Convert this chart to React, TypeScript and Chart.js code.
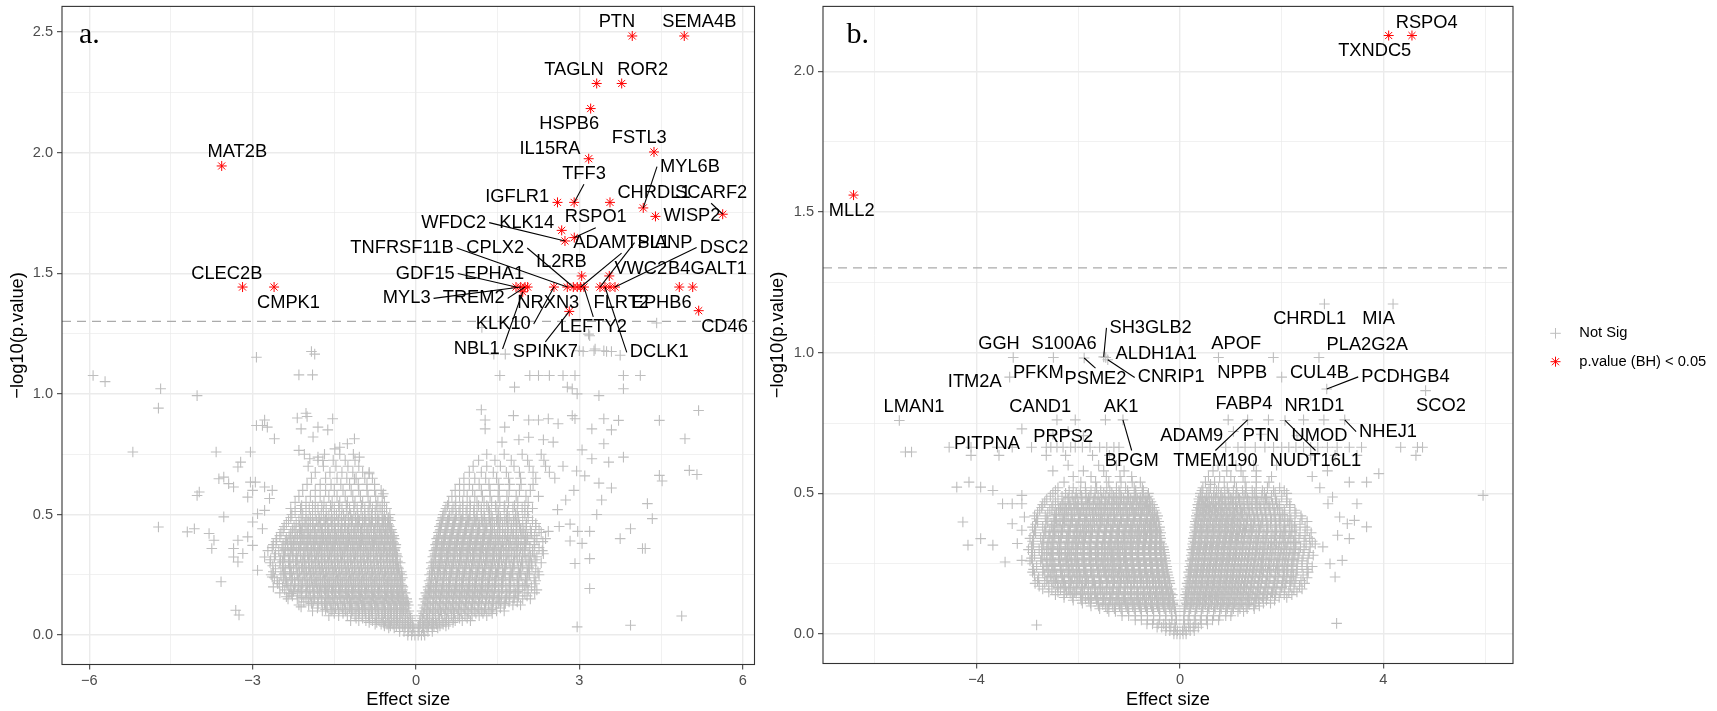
import React, { useEffect, useRef } from 'react';
import { Chart, registerables } from 'chart.js';

Chart.register(...registerables);

const SANS = '"Liberation Sans", Arial, Helvetica, sans-serif';
const SERIF = '"Liberation Serif", "Times New Roman", Times, serif';
const GREY = '#BEBEBE';
const RED = '#FF0000';

// significance cut-off drawn as the dashed line
const pCutoff = 0.05;

// axis breaks
const xMajorA = [-6, -3, 0, 3, 6];
const xMinorA = [-4.5, -1.5, 1.5, 4.5];
const yMajorA = [0, 0.5, 1, 1.5, 2, 2.5];
const yMinorA = [0.25, 0.75, 1.25, 1.75, 2.25];
const xMajorB = [-4, 0, 4];
const xMinorB = [-6, -2, 2, 6];
const yMajorB = [0, 0.5, 1, 1.5, 2];
const yMinorB = [0.25, 0.75, 1.25, 1.75];

// ---------- panel a: genes passing BH ----------
const sigGenesA = ['PTN', 'SEMA4B', 'TAGLN', 'ROR2', 'HSPB6', 'IL15RA', 'FSTL3', 'MAT2B', 'IGFLR1', 'TFF3',
  'CHRDL1', 'MYL6B', 'WISP2', 'SCARF2', 'KLK14', 'WFDC2', 'RSPO1', 'IL2RB', 'VWC2', 'CLEC2B',
  'CMPK1', 'GDF15', 'MYL3', 'NBL1', 'TREM2', 'EPHA1', 'KLK10', 'TNFRSF11B', 'CPLX2', 'NRXN3',
  'ADAMTSL1', 'LEFTY2', 'PIANP', 'DCLK1', 'FLRT2', 'DSC2', 'EPHB6', 'B4GALT1', 'SPINK7', 'CD46'];
const sigEffectA = [3.972, 4.927, 3.319, 3.778, 3.208, 3.172, 4.371, -3.568, 2.599, 2.905,
  3.563, 4.174, 4.398, 5.633, 2.676, 2.736, 2.907, 3.043, 3.55, -3.185,
  -2.606, 1.837, 1.923, 1.96, 2.002, 2.051, 2.534, 2.779, 2.889, 2.962,
  3.025, 3.085, 3.379, 3.471, 3.563, 3.655, 4.836, 5.082, 2.815, 5.192];
const sigLogPA = [2.484, 2.484, 2.287, 2.287, 2.183, 1.975, 2.003, 1.945, 1.794, 1.794,
  1.794, 1.771, 1.736, 1.745, 1.678, 1.634, 1.648, 1.489, 1.489, 1.443,
  1.443, 1.443, 1.443, 1.423, 1.443, 1.443, 1.443, 1.443, 1.443, 1.443,
  1.443, 1.443, 1.443, 1.443, 1.443, 1.443, 1.443, 1.443, 1.342, 1.345];

// repelled label centres (data units), same order as sigGenesA
const labelXA = [3.691, 5.203, 2.902, 4.165, 2.815, 2.461, 4.101, -3.282, 1.859, 3.085,
  4.371, 5.032, 5.069, 5.421, 2.033, 0.692, 3.302, 2.669, 4.129, -3.475,
  -2.342, 0.171, -0.171, 1.115, 1.06, 1.436, 1.603, -0.257, 1.456, 2.43,
  3.776, 3.256, 4.573, 4.467, 3.77, 5.657, 4.512, 5.354, 2.376, 5.666];
const labelYA = [2.542, 2.542, 2.345, 2.345, 2.12, 2.016, 2.062, 2.002, 1.818, 1.913,
  1.834, 1.942, 1.736, 1.834, 1.71, 1.71, 1.732, 1.547, 1.517, 1.498,
  1.377, 1.499, 1.396, 1.186, 1.396, 1.499, 1.29, 1.605, 1.605, 1.379,
  1.627, 1.276, 1.627, 1.172, 1.379, 1.607, 1.379, 1.517, 1.172, 1.277];
const leaderA = ['TFF3', 'MYL6B', 'SCARF2', 'RSPO1', 'WFDC2', 'TNFRSF11B', 'CPLX2', 'ADAMTSL1', 'PIANP',
  'DSC2', 'GDF15', 'MYL3', 'TREM2', 'KLK10', 'NBL1', 'SPINK7', 'LEFTY2', 'DCLK1'];

// ---------- panel a: not significant ----------
// each row: [-log10 p, effect sizes...]
const notSigRowsA: number[][] = [
  [0.0, -0.15, -0.08, -0.02, 0.04, 0.1, 0.16],
  [0.015, -0.3, -0.22, -0.14, -0.06, 0.06, 0.14, 0.22, 0.3],
  [0.03, -0.5, -0.4, -0.3, -0.2, -0.11, -0.04, 0.04, 0.12, 0.2, 0.3, 0.4],
  [0.045, -0.75, -0.64, -0.53, -0.42, -0.31, -0.2, -0.1, 0.08, 0.18, 0.28, 0.38, 0.5, 0.6],
  [0.06, -1.2, -1.05, -0.92, -0.8, -0.68, -0.56, -0.45, -0.34, -0.24, -0.15, -0.07, 0.07, 0.15, 0.25, 0.36, 0.48, 0.6, 0.72, 0.85, 1.0],
  [0.08, -1.6, -1.42, -1.26, -1.12, -0.99, -0.87, -0.75, -0.63, -0.52, -0.41, -0.3, -0.2, -0.11, 0.09, 0.19, 0.3, 0.41, 0.53, 0.65, 0.77, 0.9, 1.03, 1.16, 1.3],
  [0.1, -1.9, -1.72, -1.56, -1.42, -1.29, -1.16, -1.04, -0.92, -0.8, -0.68, -0.56, -0.45, -0.34, -0.23, -0.13, 0.11, 0.22, 0.33, 0.45, 0.57, 0.69, 0.81, 0.94, 1.07, 1.2, 1.34, 1.48, 1.62],
  [0.125, -2.15, -1.97, -1.8, -1.65, -1.51, -1.38, -1.25, -1.12, -1.0, -0.88, -0.76, -0.64, -0.52, -0.41, -0.3, -0.2, -0.14, 0.13, 0.24, 0.36, 0.48, 0.6, 0.72, 0.84, 0.96, 1.08, 1.2, 1.33, 1.47, 1.62, 1.78, 1.92],
  [0.15, -2.35, -2.18, -2.02, -1.87, -1.73, -1.6, -1.47, -1.34, -1.22, -1.1, -0.98, -0.86, -0.74, -0.62, -0.5, -0.39, -0.28, -0.17, 0.15, 0.26, 0.38, 0.5, 0.62, 0.74, 0.86, 0.98, 1.1, 1.22, 1.35, 1.49, 1.64, 1.8, 1.96, 2.1],
  [0.175, -2.5, -2.33, -2.17, -2.02, -1.88, -1.74, -1.61, -1.48, -1.36, -1.24, -1.12, -1.0, -0.88, -0.76, -0.64, -0.52, -0.41, -0.3, -0.2, 0.18, 0.29, 0.41, 0.53, 0.65, 0.77, 0.89, 1.01, 1.13, 1.25, 1.38, 1.52, 1.67, 1.83, 2.0, 2.18],
  [0.2, -2.62, -2.45, -2.3, -2.16, -2.02, -1.9, -1.78, -1.66, -1.54, -1.42, -1.3, -1.18, -1.06, -0.94, -0.82, -0.7, -0.58, -0.46, -0.35, -0.24, 0.22, 0.32, 0.44, 0.56, 0.68, 0.8, 0.92, 1.04, 1.16, 1.28, 1.4, 1.52, 1.65, 1.8, 1.96, 2.12],
  [0.225, -2.55, -2.38, -2.23, -2.09, -1.96, -1.84, -1.72, -1.6, -1.48, -1.36, -1.24, -1.12, -1.0, -0.88, -0.76, -0.64, -0.52, -0.4, -0.29, 0.24, 0.36, 0.48, 0.6, 0.72, 0.84, 0.96, 1.08, 1.2, 1.32, 1.44, 1.57, 1.71, 1.86, 2.02, 2.2],
  [0.25, -2.66, -2.48, -2.32, -2.18, -2.04, -1.91, -1.78, -1.66, -1.54, -1.42, -1.3, -1.18, -1.06, -0.94, -0.82, -0.7, -0.58, -0.46, -0.35, -0.26, 0.25, 0.34, 0.45, 0.56, 0.68, 0.8, 0.92, 1.04, 1.16, 1.28, 1.4, 1.52, 1.64, 1.78, 1.93, 2.08, 2.26],
  [0.275, -2.58, -2.4, -2.25, -2.1, -1.97, -1.85, -1.73, -1.61, -1.49, -1.37, -1.25, -1.13, -1.01, -0.89, -0.77, -0.65, -0.53, -0.42, -0.32, 0.28, 0.39, 0.5, 0.62, 0.74, 0.86, 0.98, 1.1, 1.22, 1.34, 1.46, 1.59, 1.73, 1.88, 2.04, 2.2],
  [0.3, -2.68, -2.5, -2.34, -2.19, -2.05, -1.92, -1.8, -1.68, -1.56, -1.44, -1.32, -1.2, -1.08, -0.96, -0.84, -0.72, -0.6, -0.48, -0.37, -0.29, 0.28, 0.36, 0.46, 0.57, 0.69, 0.81, 0.93, 1.05, 1.17, 1.29, 1.41, 1.53, 1.66, 1.8, 1.95, 2.12, 2.3],
  [0.325, -2.6, -2.42, -2.26, -2.12, -1.98, -1.86, -1.74, -1.62, -1.5, -1.38, -1.26, -1.14, -1.02, -0.9, -0.78, -0.66, -0.54, -0.43, -0.34, 0.31, 0.42, 0.53, 0.64, 0.76, 0.88, 1.0, 1.12, 1.24, 1.36, 1.48, 1.61, 1.75, 1.9, 2.06, 2.22],
  [0.35, -2.72, -2.52, -2.35, -2.2, -2.06, -1.93, -1.8, -1.68, -1.56, -1.44, -1.32, -1.2, -1.08, -0.96, -0.84, -0.72, -0.6, -0.49, -0.39, 0.33, 0.44, 0.56, 0.68, 0.8, 0.92, 1.04, 1.16, 1.28, 1.4, 1.52, 1.65, 1.8, 1.96, 2.14, 2.32],
  [0.375, -2.62, -2.44, -2.28, -2.13, -2.0, -1.87, -1.74, -1.62, -1.5, -1.38, -1.26, -1.14, -1.02, -0.9, -0.78, -0.66, -0.55, -0.44, -0.37, 0.36, 0.47, 0.59, 0.71, 0.83, 0.95, 1.07, 1.19, 1.31, 1.43, 1.56, 1.7, 1.85, 2.01, 2.18],
  [0.4, -2.56, -2.38, -2.22, -2.08, -1.95, -1.82, -1.69, -1.57, -1.45, -1.33, -1.21, -1.09, -0.97, -0.85, -0.73, -0.61, -0.5, -0.4, 0.38, 0.5, 0.62, 0.74, 0.86, 0.98, 1.1, 1.22, 1.34, 1.46, 1.59, 1.73, 1.88, 2.04, 2.22, 2.38],
  [0.425, -2.48, -2.3, -2.14, -2.0, -1.87, -1.74, -1.62, -1.5, -1.38, -1.26, -1.14, -1.02, -0.9, -0.78, -0.66, -0.55, -0.44, 0.41, 0.53, 0.65, 0.77, 0.89, 1.01, 1.13, 1.25, 1.37, 1.5, 1.64, 1.79, 1.95, 2.12, 2.3],
  [0.45, -2.42, -2.24, -2.08, -1.94, -1.8, -1.67, -1.55, -1.43, -1.31, -1.19, -1.07, -0.95, -0.83, -0.71, -0.6, -0.49, 0.43, 0.55, 0.67, 0.79, 0.91, 1.03, 1.15, 1.27, 1.4, 1.54, 1.69, 1.85, 2.02, 2.2],
  [0.475, -2.34, -2.15, -1.98, -1.83, -1.69, -1.56, -1.43, -1.3, -1.17, -1.04, -0.92, -0.8, -0.68, -0.56, -0.47, 0.46, 0.58, 0.7, 0.82, 0.95, 1.08, 1.21, 1.34, 1.48, 1.63, 1.79, 1.96, 2.14],
  [0.5, -2.28, -2.08, -1.9, -1.74, -1.6, -1.46, -1.33, -1.2, -1.07, -0.94, -0.82, -0.7, -0.58, -0.48, 0.5, 0.62, 0.74, 0.86, 0.99, 1.12, 1.25, 1.38, 1.52, 1.67, 1.83, 2.0],
  [0.525, -2.3, -2.12, -1.96, -1.8, -1.65, -1.5, -1.36, -1.22, -1.08, -0.94, -0.8, -0.66, -0.54, 0.55, 0.68, 0.81, 0.94, 1.07, 1.2, 1.33, 1.47, 1.62, 1.78, 1.95, 2.14],
  [0.55, -2.22, -2.02, -1.85, -1.69, -1.54, -1.4, -1.26, -1.12, -0.98, -0.84, -0.7, -0.58, 0.6, 0.73, 0.86, 0.99, 1.12, 1.25, 1.39, 1.54, 1.7, 1.87, 2.06],
  [0.575, -2.15, -1.94, -1.76, -1.6, -1.45, -1.3, -1.16, -1.02, -0.88, -0.74, -0.62, 0.66, 0.8, 0.94, 1.08, 1.22, 1.36, 1.51, 1.67, 1.84, 2.02, 2.25],
  [0.6, -2.08, -1.85, -1.66, -1.5, -1.34, -1.19, -1.05, -0.9, -0.76, -0.64, 0.72, 0.88, 1.04, 1.2, 1.36, 1.53, 1.71, 1.9, 2.1],
  [0.625, -2.0, -1.76, -1.56, -1.38, -1.22, -1.06, -0.9, -0.76, 0.8, 0.98, 1.16, 1.34, 1.52, 1.72, 1.93, 2.15],
  [0.65, -1.92, -1.66, -1.45, -1.27, -1.1, -0.94, -0.8, 0.88, 1.08, 1.28, 1.48, 1.7, 1.92, 2.2],
  [0.675, -1.85, -1.58, -1.36, -1.16, -0.98, -0.86, 0.98, 1.2, 1.42, 1.66, 1.9, 2.15, 2.45],
  [0.7, -1.98, -1.7, -1.47, -1.25, -1.05, 1.05, 1.3, 1.55, 1.8, 2.08, 2.38],
  [0.725, -1.8, -1.52, -1.3, -1.12, 1.15, 1.45, 1.75, 2.05, 2.35],
  [0.75, -2.05, -1.68, -1.4, -1.15, 1.3, 1.62, 1.95, 2.3],
];

// the packed core of the cloud, between the rows above
const notSigCoreA: number[][] = [
  [0.0375, -0.58, -0.47, -0.36, -0.25, -0.15, -0.06, 0.05, 0.14, 0.23, 0.33, 0.44, 0.55],
  [0.0525, -0.86, -0.72, -0.6, -0.48, -0.36, -0.25, -0.14, 0.12, 0.22, 0.32, 0.43, 0.55, 0.68],
  [0.07, -1.1, -0.98, -0.85, -0.73, -0.61, -0.5, -0.39, -0.29, -0.19, -0.1, 0.12, 0.21, 0.31, 0.43, 0.56, 0.69, 0.8, 0.94],
  [0.09, -1.5, -1.34, -1.19, -1.05, -0.93, -0.81, -0.69, -0.58, -0.47, -0.36, -0.26, -0.16, 0.14, 0.25, 0.36, 0.47, 0.59, 0.71, 0.84, 0.97, 1.1, 1.23, 1.4],
  [0.1125, -1.81, -1.63, -1.48, -1.35, -1.22, -1.1, -0.98, -0.86, -0.74, -0.62, -0.5, -0.39, -0.28, -0.18, 0.16, 0.27, 0.39, 0.51, 0.63, 0.75, 0.88, 1.01, 1.14, 1.27, 1.41, 1.55],
  [0.1375, -2.06, -1.89, -1.73, -1.58, -1.44, -1.31, -1.18, -1.06, -0.94, -0.82, -0.7, -0.58, -0.46, -0.35, -0.24, -0.16, 0.18, 0.31, 0.43, 0.55, 0.67, 0.79, 0.91, 1.03, 1.15, 1.28, 1.42, 1.56, 1.71, 1.86],
  [0.1625, -2.27, -2.1, -1.94, -1.8, -1.66, -1.53, -1.4, -1.28, -1.16, -1.04, -0.92, -0.8, -0.68, -0.56, -0.45, -0.34, -0.24, 0.2, 0.32, 0.44, 0.56, 0.68, 0.8, 0.92, 1.04, 1.16, 1.29, 1.43, 1.57, 1.72, 1.88, 2.04],
  [0.1875, -2.41, -2.25, -2.1, -1.95, -1.81, -1.68, -1.55, -1.42, -1.3, -1.18, -1.06, -0.94, -0.82, -0.7, -0.58, -0.46, -0.35, -0.25, 0.23, 0.35, 0.47, 0.59, 0.71, 0.83, 0.95, 1.07, 1.19, 1.31, 1.44, 1.58, 1.73, 1.89, 2.06, 2.22],
  [0.2125, -2.54, -2.37, -2.22, -2.08, -1.95, -1.83, -1.71, -1.59, -1.47, -1.35, -1.23, -1.11, -0.99, -0.87, -0.75, -0.63, -0.51, -0.4, -0.29, 0.26, 0.37, 0.49, 0.61, 0.73, 0.85, 0.97, 1.09, 1.21, 1.33, 1.46, 1.59, 1.73, 1.88, 2.04, 2.18],
  [0.2375, -2.6, -2.43, -2.27, -2.13, -2.0, -1.87, -1.75, -1.63, -1.51, -1.39, -1.27, -1.15, -1.03, -0.91, -0.79, -0.67, -0.55, -0.44, -0.33, -0.25, 0.29, 0.4, 0.51, 0.62, 0.74, 0.86, 0.98, 1.1, 1.22, 1.34, 1.46, 1.59, 1.72, 1.86, 2.01, 2.17],
  [0.2625, -2.62, -2.44, -2.29, -2.14, -2.01, -1.88, -1.76, -1.64, -1.52, -1.4, -1.28, -1.16, -1.04, -0.92, -0.8, -0.68, -0.56, -0.45, -0.34, -0.27, 0.3, 0.42, 0.53, 0.65, 0.77, 0.89, 1.01, 1.13, 1.25, 1.37, 1.5, 1.63, 1.77, 1.92, 2.08, 2.24],
  [0.2875, -2.63, -2.45, -2.3, -2.15, -2.02, -1.89, -1.77, -1.65, -1.53, -1.41, -1.29, -1.17, -1.05, -0.93, -0.81, -0.69, -0.57, -0.46, -0.36, 0.32, 0.43, 0.54, 0.66, 0.78, 0.9, 1.02, 1.14, 1.26, 1.38, 1.51, 1.65, 1.8, 1.96, 2.13],
  [0.3125, -2.67, -2.49, -2.33, -2.18, -2.04, -1.91, -1.79, -1.67, -1.55, -1.43, -1.31, -1.19, -1.07, -0.95, -0.83, -0.71, -0.59, -0.48, -0.38, 0.36, 0.48, 0.6, 0.72, 0.84, 0.96, 1.08, 1.2, 1.32, 1.44, 1.57, 1.71, 1.86, 2.02, 2.19],
  [0.3375, -2.58, -2.41, -2.26, -2.12, -1.99, -1.86, -1.74, -1.62, -1.5, -1.38, -1.26, -1.14, -1.02, -0.9, -0.78, -0.66, -0.55, -0.44, -0.36, 0.35, 0.46, 0.58, 0.7, 0.82, 0.94, 1.06, 1.18, 1.3, 1.42, 1.55, 1.69, 1.84, 2.0, 2.17, 2.34],
  [0.3625, -2.64, -2.46, -2.3, -2.15, -2.02, -1.89, -1.77, -1.65, -1.53, -1.41, -1.29, -1.17, -1.05, -0.93, -0.81, -0.69, -0.58, -0.47, -0.38, 0.38, 0.5, 0.62, 0.74, 0.86, 0.98, 1.1, 1.22, 1.34, 1.47, 1.61, 1.76, 1.92, 2.09, 2.26],
  [0.3875, -2.57, -2.4, -2.25, -2.11, -1.98, -1.85, -1.72, -1.6, -1.48, -1.36, -1.24, -1.12, -1.0, -0.88, -0.76, -0.64, -0.53, -0.43, 0.4, 0.52, 0.64, 0.76, 0.88, 1.0, 1.12, 1.24, 1.37, 1.51, 1.66, 1.82, 1.99, 2.17, 2.33],
  [0.4125, -2.5, -2.33, -2.18, -2.04, -1.91, -1.78, -1.66, -1.54, -1.42, -1.3, -1.18, -1.06, -0.94, -0.82, -0.7, -0.58, -0.47, -0.41, 0.42, 0.54, 0.66, 0.78, 0.9, 1.02, 1.14, 1.26, 1.39, 1.53, 1.68, 1.84, 2.01, 2.18],
  [0.4375, -2.44, -2.27, -2.12, -1.98, -1.85, -1.72, -1.6, -1.48, -1.36, -1.24, -1.12, -1.0, -0.88, -0.76, -0.64, -0.53, -0.45, 0.45, 0.57, 0.69, 0.81, 0.93, 1.05, 1.17, 1.3, 1.44, 1.59, 1.75, 1.92, 2.1, 2.26],
  [0.4625, -2.38, -2.2, -2.04, -1.89, -1.75, -1.62, -1.49, -1.36, -1.23, -1.1, -0.98, -0.86, -0.74, -0.62, -0.52, 0.47, 0.59, 0.71, 0.84, 0.97, 1.1, 1.23, 1.37, 1.52, 1.68, 1.85, 2.03, 2.2],
  [0.4875, -2.3, -2.11, -1.94, -1.78, -1.64, -1.5, -1.37, -1.24, -1.11, -0.98, -0.86, -0.74, -0.62, -0.51, 0.49, 0.61, 0.73, 0.86, 0.99, 1.12, 1.26, 1.4, 1.55, 1.71, 1.88, 2.06],
  [0.5125, -2.22, -2.02, -1.85, -1.7, -1.55, -1.41, -1.27, -1.14, -1.01, -0.88, -0.75, -0.62, 0.53, 0.66, 0.79, 0.92, 1.06, 1.2, 1.35, 1.51, 1.68, 1.86, 2.05],
  [0.5375, -2.1, -1.9, -1.73, -1.57, -1.42, -1.28, -1.14, -1.0, -0.86, -0.73, -0.62, 0.58, 0.72, 0.86, 1.0, 1.15, 1.3, 1.46, 1.63, 1.81, 2.0],
];

// the most crowded genes inside each wing
const notSigDenseA: number[][] = [
  [0.10625, -1.66, -1.54, -1.42, -1.3, -1.18, -1.06, -0.94, -0.82, -0.7, -0.58, -0.46, -0.35, -0.24, 0.2, 0.31, 0.42, 0.54, 0.66, 0.78, 0.9, 1.02, 1.14, 1.26, 1.38],
  [0.13125, -1.92, -1.8, -1.68, -1.56, -1.44, -1.32, -1.2, -1.08, -0.96, -0.84, -0.72, -0.6, -0.48, -0.37, -0.27, -0.2, 0.21, 0.32, 0.44, 0.56, 0.68, 0.8, 0.92, 1.04, 1.16, 1.28, 1.4, 1.52, 1.64],
  [0.15625, -2.1, -1.98, -1.86, -1.74, -1.62, -1.5, -1.38, -1.26, -1.14, -1.02, -0.9, -0.78, -0.66, -0.54, -0.43, -0.32, -0.23, 0.22, 0.33, 0.45, 0.57, 0.69, 0.81, 0.93, 1.05, 1.17, 1.29, 1.41, 1.53, 1.66, 1.8],
  [0.18125, -2.25, -2.13, -2.01, -1.89, -1.77, -1.65, -1.53, -1.41, -1.29, -1.17, -1.05, -0.93, -0.81, -0.69, -0.57, -0.46, -0.35, -0.26, 0.25, 0.36, 0.48, 0.6, 0.72, 0.84, 0.96, 1.08, 1.2, 1.32, 1.44, 1.57, 1.71, 1.86],
  [0.20625, -2.35, -2.23, -2.11, -1.99, -1.87, -1.75, -1.63, -1.51, -1.39, -1.27, -1.15, -1.03, -0.91, -0.79, -0.67, -0.55, -0.44, -0.33, -0.26, 0.27, 0.38, 0.5, 0.62, 0.74, 0.86, 0.98, 1.1, 1.22, 1.34, 1.46, 1.59, 1.73, 1.88, 2.0],
  [0.23125, -2.4, -2.28, -2.16, -2.04, -1.92, -1.8, -1.68, -1.56, -1.44, -1.32, -1.2, -1.08, -0.96, -0.84, -0.72, -0.6, -0.48, -0.37, -0.28, 0.28, 0.39, 0.51, 0.63, 0.75, 0.87, 0.99, 1.11, 1.23, 1.35, 1.47, 1.6, 1.74, 1.89, 2.02],
  [0.25625, -2.42, -2.3, -2.18, -2.06, -1.94, -1.82, -1.7, -1.58, -1.46, -1.34, -1.22, -1.1, -0.98, -0.86, -0.74, -0.62, -0.5, -0.39, -0.3, 0.29, 0.4, 0.52, 0.64, 0.76, 0.88, 1.0, 1.12, 1.24, 1.36, 1.48, 1.61, 1.75, 1.9, 2.05],
  [0.28125, -2.44, -2.32, -2.2, -2.08, -1.96, -1.84, -1.72, -1.6, -1.48, -1.36, -1.24, -1.12, -1.0, -0.88, -0.76, -0.64, -0.52, -0.41, -0.33, 0.31, 0.42, 0.54, 0.66, 0.78, 0.9, 1.02, 1.14, 1.26, 1.38, 1.5, 1.63, 1.77, 1.92, 2.07],
  [0.30625, -2.45, -2.33, -2.21, -2.09, -1.97, -1.85, -1.73, -1.61, -1.49, -1.37, -1.25, -1.13, -1.01, -0.89, -0.77, -0.65, -0.53, -0.42, -0.34, 0.33, 0.44, 0.56, 0.68, 0.8, 0.92, 1.04, 1.16, 1.28, 1.4, 1.52, 1.65, 1.79, 1.94, 2.09],
  [0.33125, -2.43, -2.31, -2.19, -2.07, -1.95, -1.83, -1.71, -1.59, -1.47, -1.35, -1.23, -1.11, -0.99, -0.87, -0.75, -0.63, -0.52, -0.42, -0.36, 0.35, 0.46, 0.58, 0.7, 0.82, 0.94, 1.06, 1.18, 1.3, 1.42, 1.54, 1.67, 1.81, 1.96, 2.1],
  [0.35625, -2.4, -2.28, -2.16, -2.04, -1.92, -1.8, -1.68, -1.56, -1.44, -1.32, -1.2, -1.08, -0.96, -0.84, -0.72, -0.6, -0.49, -0.4, 0.37, 0.48, 0.6, 0.72, 0.84, 0.96, 1.08, 1.2, 1.32, 1.44, 1.57, 1.71, 1.86, 2.0],
  [0.38125, -2.36, -2.24, -2.12, -2.0, -1.88, -1.76, -1.64, -1.52, -1.4, -1.28, -1.16, -1.04, -0.92, -0.8, -0.68, -0.57, -0.47, -0.41, 0.39, 0.5, 0.62, 0.74, 0.86, 0.98, 1.1, 1.22, 1.34, 1.46, 1.59, 1.73, 1.88, 2.02],
  [0.40625, -2.3, -2.18, -2.06, -1.94, -1.82, -1.7, -1.58, -1.46, -1.34, -1.22, -1.1, -0.98, -0.86, -0.74, -0.63, -0.52, -0.44, 0.41, 0.52, 0.64, 0.76, 0.88, 1.0, 1.12, 1.24, 1.36, 1.49, 1.63, 1.78, 1.93, 2.05],
  [0.43125, -2.22, -2.1, -1.98, -1.86, -1.74, -1.62, -1.5, -1.38, -1.26, -1.14, -1.02, -0.9, -0.78, -0.67, -0.56, -0.47, 0.44, 0.55, 0.67, 0.79, 0.91, 1.03, 1.15, 1.27, 1.4, 1.54, 1.69, 1.84, 1.98],
  [0.45625, -2.14, -2.02, -1.9, -1.78, -1.66, -1.54, -1.42, -1.3, -1.18, -1.06, -0.94, -0.82, -0.7, -0.59, -0.5, 0.46, 0.57, 0.69, 0.81, 0.93, 1.05, 1.17, 1.3, 1.44, 1.59, 1.75, 1.9],
  [0.48125, -2.02, -1.9, -1.78, -1.66, -1.54, -1.42, -1.3, -1.18, -1.06, -0.94, -0.82, -0.7, -0.59, -0.51, 0.49, 0.6, 0.72, 0.84, 0.96, 1.08, 1.21, 1.35, 1.5, 1.66, 1.82],
];

// isolated genes, [effect size, -log10 p]
const notSigScatterA: number[][] = [
  [-5.93, 1.076], [-5.71, 1.051], [-4.69, 1.021], [-4.73, 0.941], [-4.02, 0.993], [-5.2, 0.759], [-3.67, 0.759],
  [-3.04, 0.759], [-2.93, 1.152], [-1.92, 1.176], [-1.86, 1.165], [-2.15, 1.079], [-1.9, 1.079], [-2.02, 0.92],
  [-2.18, 0.9], [-2.0, 0.906], [-1.53, 0.897], [-2.78, 0.892], [-2.93, 0.869], [-2.73, 0.862], [-2.82, 0.869],
  [-2.6, 0.814], [-2.11, 0.855], [-1.8, 0.862], [-1.89, 0.821], [-1.62, 0.851], [-1.49, 0.772], [-1.4, 0.779],
  [-1.26, 0.793], [-1.13, 0.814], [-2.15, 0.766], [-1.95, 0.731], [-1.8, 0.738], [-1.71, 0.724], [-1.04, 0.738],
  [-0.86, 0.669], [-0.6, 0.586], [-1.13, 0.648], [-3.22, 0.717], [-3.27, 0.697], [-3.53, 0.655], [-3.44, 0.628],
  [-3.35, 0.614], [-3.62, 0.648], [-4.02, 0.579], [-3.98, 0.593], [-4.73, 0.448], [-4.2, 0.428], [-4.07, 0.441],
  [-3.8, 0.421], [-3.71, 0.393], [-3.53, 0.49], [-3.75, 0.359], [-3.35, 0.359], [-3.27, 0.303], [-3.58, 0.221],
  [-3.31, 0.103], [-3.25, 0.083], [-3.04, 0.634], [-3.0, 0.6], [-3.09, 0.572], [-2.95, 0.634], [-2.78, 0.614],
  [-2.64, 0.6], [-2.69, 0.566], [-2.78, 0.517], [-2.91, 0.503], [-3.0, 0.469], [-2.82, 0.441], [-3.09, 0.407],
  [-3.27, 0.393], [-3.0, 0.372], [-3.18, 0.338], [-3.35, 0.324], [-2.78, 0.324], [-2.91, 0.269], [-2.64, 0.241],
  [-2.51, 0.214], [-2.38, 0.159], [-2.29, 0.172], [-2.11, 0.117],
  [1.54, 1.076], [2.09, 1.076], [2.25, 1.076], [2.45, 1.076], [2.7, 1.076], [2.92, 1.076], [3.81, 1.076],
  [4.12, 1.076], [1.81, 1.028], [2.78, 1.028], [2.96, 1.0], [2.87, 1.021], [3.36, 0.993], [3.81, 1.021],
  [5.19, 0.931], [1.2, 0.934], [1.27, 0.892], [1.27, 0.855], [1.63, 0.862], [1.79, 0.91], [2.07, 0.892],
  [2.25, 0.892], [2.43, 0.897], [2.61, 0.876], [2.87, 0.91], [2.92, 0.897], [3.45, 0.897], [3.72, 0.89],
  [3.23, 0.855], [3.59, 0.851], [4.47, 0.89], [4.94, 0.814], [1.58, 0.8], [1.89, 0.81], [2.07, 0.82],
  [2.34, 0.81], [2.52, 0.8], [3.05, 0.768], [3.23, 0.731], [3.45, 0.793], [3.81, 0.738], [3.54, 0.717],
  [5.02, 0.683], [5.16, 0.666], [4.47, 0.662], [4.52, 0.639], [4.25, 0.545], [4.34, 0.483], [3.94, 0.441],
  [3.75, 0.4], [4.16, 0.359], [4.21, 0.359], [3.19, 0.193], [4.88, 0.079], [3.94, 0.041], [2.96, 0.034],
  [3.36, 0.63], [3.59, 0.61], [3.41, 0.56], [3.32, 0.5], [3.19, 0.43], [3.05, 0.38], [3.19, 0.317],
  [2.92, 0.297], [2.43, 0.43], [2.63, 0.45], [2.83, 0.46], [2.97, 0.43], [2.83, 0.39], [2.6, 0.52],
  [2.75, 0.56], [2.9, 0.6], [2.55, 0.65], [2.7, 0.7], [2.95, 0.68], [3.1, 0.66],
  [3.17, 1.248], [3.07, 1.176], [3.29, 1.186], [3.5, 1.176], [3.59, 1.176], [3.75, 1.16], [4.42, 1.294],
  [1.43, 1.165], [1.64, 1.165], [1.21, 1.275], [3.0, 1.179], [3.27, 1.179], [3.45, 1.179], [3.19, 1.241],
];

// ---------- panel b ----------
const sigGenesB = ['MLL2', 'TXNDC5', 'RSPO4'];
const sigEffectB = [-6.42, 4.104, 4.562];
const sigLogPB = [1.56, 2.127, 2.127];

const labelTextB = ['MLL2', 'RSPO4', 'TXNDC5', 'SH3GLB2', 'GGH', 'S100A6', 'APOF', 'CHRDL1', 'MIA', 'PLA2G2A',
  'ALDH1A1', 'CNRIP1', 'PSME2', 'PFKM', 'ITM2A', 'NPPB', 'CUL4B', 'PCDHGB4', 'LMAN1', 'CAND1',
  'AK1', 'FABP4', 'NR1D1', 'SCO2', 'NHEJ1', 'PITPNA', 'PRPS2', 'ADAM9', 'PTN', 'UMOD',
  'BPGM', 'TMEM190', 'NUDT16L1'];
const labelXB = [-6.456, 4.852, 3.829, -0.578, -3.56, -2.281, 1.105, 2.551, 3.906, 3.681,
  -0.468, -0.173, -1.662, -2.787, -4.037, 1.223, 2.741, 4.433, -5.231, -2.749,
  -1.16, 1.259, 2.643, 5.133, 4.092, -3.797, -2.297, 0.232, 1.593, 2.743,
  -0.95, 0.696, 2.665];
const labelYB = [1.504, 2.173, 2.073, 1.088, 1.031, 1.031, 1.031, 1.12, 1.12, 1.028,
  0.994, 0.912, 0.908, 0.928, 0.896, 0.927, 0.927, 0.914, 0.807, 0.807,
  0.807, 0.818, 0.809, 0.809, 0.719, 0.675, 0.702, 0.703, 0.703, 0.703,
  0.615, 0.615, 0.615];
const leaderGenesB = ['SH3GLB2', 'CNRIP1', 'PSME2', 'PCDHGB4', 'NHEJ1', 'BPGM', 'TMEM190', 'NUDT16L1'];
const leaderEffectB = [-1.5, -1.42, -1.885, 2.886, 3.24, -1.122, 1.33, 2.065];
const leaderLogPB = [0.985, 0.975, 0.981, 0.871, 0.761, 0.761, 0.761, 0.759];

const notSigRowsB: number[][] = [
  [0.0, -0.12, -0.06, 0.0, 0.06, 0.12],
  [0.012, -0.28, -0.2, -0.12, -0.05, 0.05, 0.12, 0.2, 0.28],
  [0.024, -0.45, -0.36, -0.27, -0.18, -0.09, 0.08, 0.17, 0.26, 0.36],
  [0.036, -0.65, -0.54, -0.43, -0.32, -0.21, -0.1, 0.09, 0.2, 0.31, 0.42, 0.54],
  [0.05, -0.88, -0.76, -0.64, -0.52, -0.4, -0.28, -0.16, -0.07, 0.07, 0.16, 0.28, 0.4, 0.52, 0.64, 0.76],
  [0.065, -1.14, -1.01, -0.88, -0.76, -0.64, -0.52, -0.4, -0.28, -0.16, -0.08, 0.08, 0.18, 0.3, 0.42, 0.54, 0.66, 0.78, 0.9, 1.0],
  [0.08, -1.4, -1.27, -1.14, -1.01, -0.88, -0.76, -0.64, -0.52, -0.4, -0.28, -0.17, -0.09, 0.08, 0.18, 0.3, 0.42, 0.54, 0.66, 0.78, 0.9, 1.02, 1.14, 1.25],
  [0.1, -1.75, -1.6, -1.46, -1.32, -1.19, -1.06, -0.93, -0.8, -0.68, -0.56, -0.44, -0.32, -0.2, -0.11, 0.09, 0.2, 0.32, 0.44, 0.56, 0.68, 0.8, 0.92, 1.04, 1.16, 1.3, 1.45, 1.56],
  [0.12, -2.1, -1.94, -1.79, -1.64, -1.5, -1.36, -1.22, -1.09, -0.96, -0.83, -0.7, -0.58, -0.46, -0.34, -0.22, -0.13, 0.1, 0.2, 0.32, 0.44, 0.56, 0.68, 0.8, 0.92, 1.04, 1.16, 1.28, 1.4, 1.54, 1.7, 1.86],
  [0.14, -2.45, -2.28, -2.12, -1.96, -1.81, -1.66, -1.52, -1.38, -1.24, -1.1, -0.97, -0.84, -0.71, -0.58, -0.46, -0.34, -0.23, -0.15, 0.11, 0.22, 0.34, 0.46, 0.58, 0.7, 0.82, 0.94, 1.06, 1.18, 1.3, 1.43, 1.57, 1.72, 1.88, 2.05, 2.2],
  [0.16, -2.7, -2.52, -2.35, -2.19, -2.03, -1.88, -1.73, -1.59, -1.45, -1.31, -1.17, -1.03, -0.9, -0.77, -0.64, -0.52, -0.4, -0.28, -0.17, 0.12, 0.23, 0.35, 0.47, 0.59, 0.71, 0.83, 0.95, 1.07, 1.19, 1.31, 1.44, 1.58, 1.73, 1.89, 2.06, 2.24, 2.4],
  [0.18, -2.85, -2.66, -2.48, -2.32, -2.16, -2.01, -1.86, -1.72, -1.58, -1.44, -1.3, -1.17, -1.04, -0.91, -0.78, -0.66, -0.54, -0.42, -0.3, -0.2, 0.14, 0.25, 0.37, 0.49, 0.61, 0.73, 0.85, 0.97, 1.09, 1.21, 1.33, 1.46, 1.6, 1.75, 1.91, 2.08, 2.26, 2.45],
  [0.2, -2.78, -2.6, -2.43, -2.27, -2.12, -1.97, -1.83, -1.69, -1.55, -1.41, -1.28, -1.15, -1.02, -0.89, -0.76, -0.64, -0.52, -0.41, -0.3, -0.22, 0.16, 0.27, 0.39, 0.51, 0.63, 0.75, 0.87, 0.99, 1.11, 1.23, 1.35, 1.48, 1.62, 1.77, 1.93, 2.1, 2.28, 2.5],
  [0.22, -2.9, -2.7, -2.52, -2.35, -2.19, -2.04, -1.9, -1.76, -1.62, -1.48, -1.34, -1.21, -1.08, -0.95, -0.82, -0.7, -0.58, -0.46, -0.35, -0.25, 0.17, 0.28, 0.4, 0.52, 0.64, 0.76, 0.88, 1.0, 1.12, 1.24, 1.37, 1.5, 1.64, 1.79, 1.95, 2.12, 2.3, 2.52],
  [0.24, -2.82, -2.63, -2.46, -2.3, -2.14, -1.99, -1.85, -1.71, -1.57, -1.43, -1.3, -1.17, -1.04, -0.91, -0.78, -0.66, -0.54, -0.43, -0.33, -0.26, 0.19, 0.3, 0.42, 0.54, 0.66, 0.78, 0.9, 1.02, 1.14, 1.26, 1.39, 1.53, 1.68, 1.84, 2.01, 2.19, 2.4, 2.6],
  [0.26, -2.95, -2.74, -2.56, -2.39, -2.23, -2.08, -1.93, -1.79, -1.65, -1.51, -1.37, -1.24, -1.11, -0.98, -0.85, -0.72, -0.6, -0.49, -0.38, -0.28, 0.2, 0.31, 0.43, 0.55, 0.67, 0.79, 0.91, 1.03, 1.15, 1.27, 1.4, 1.54, 1.69, 1.85, 2.02, 2.2, 2.4],
  [0.28, -2.86, -2.67, -2.5, -2.33, -2.17, -2.02, -1.88, -1.74, -1.6, -1.46, -1.33, -1.2, -1.07, -0.94, -0.81, -0.69, -0.57, -0.46, -0.36, -0.3, 0.22, 0.33, 0.45, 0.57, 0.69, 0.81, 0.93, 1.05, 1.17, 1.29, 1.42, 1.56, 1.71, 1.87, 2.04, 2.22, 2.42, 2.62],
  [0.3, -2.98, -2.77, -2.58, -2.41, -2.25, -2.1, -1.95, -1.81, -1.67, -1.53, -1.39, -1.26, -1.13, -1.0, -0.87, -0.74, -0.62, -0.5, -0.39, -0.32, 0.23, 0.34, 0.46, 0.58, 0.7, 0.82, 0.94, 1.06, 1.18, 1.3, 1.43, 1.57, 1.72, 1.88, 2.05, 2.24, 2.44],
  [0.32, -2.88, -2.68, -2.5, -2.34, -2.18, -2.03, -1.89, -1.75, -1.61, -1.47, -1.34, -1.21, -1.08, -0.95, -0.82, -0.7, -0.58, -0.46, -0.36, 0.25, 0.36, 0.48, 0.6, 0.72, 0.84, 0.96, 1.08, 1.2, 1.32, 1.45, 1.59, 1.74, 1.9, 2.07, 2.26, 2.48, 2.66],
  [0.34, -2.95, -2.74, -2.56, -2.39, -2.23, -2.08, -1.93, -1.79, -1.65, -1.51, -1.37, -1.24, -1.11, -0.98, -0.85, -0.72, -0.6, -0.49, -0.38, 0.26, 0.37, 0.49, 0.61, 0.73, 0.85, 0.97, 1.09, 1.21, 1.34, 1.48, 1.63, 1.79, 1.96, 2.14, 2.34, 2.55],
  [0.36, -2.84, -2.64, -2.47, -2.31, -2.16, -2.01, -1.87, -1.73, -1.59, -1.45, -1.32, -1.19, -1.06, -0.93, -0.8, -0.68, -0.56, -0.44, -0.38, 0.28, 0.39, 0.51, 0.63, 0.75, 0.87, 0.99, 1.11, 1.23, 1.36, 1.5, 1.65, 1.81, 1.98, 2.16, 2.36, 2.58],
  [0.38, -2.9, -2.7, -2.52, -2.36, -2.2, -2.05, -1.91, -1.77, -1.63, -1.49, -1.36, -1.23, -1.1, -0.97, -0.84, -0.72, -0.6, -0.48, -0.4, 0.29, 0.4, 0.52, 0.64, 0.76, 0.88, 1.0, 1.12, 1.25, 1.39, 1.54, 1.7, 1.87, 2.05, 2.25, 2.46],
  [0.4, -2.8, -2.6, -2.43, -2.27, -2.12, -1.97, -1.83, -1.69, -1.55, -1.41, -1.28, -1.15, -1.02, -0.89, -0.76, -0.64, -0.52, -0.42, 0.3, 0.41, 0.53, 0.65, 0.77, 0.89, 1.01, 1.13, 1.26, 1.4, 1.55, 1.71, 1.88, 2.06, 2.26, 2.5],
  [0.42, -2.86, -2.65, -2.47, -2.3, -2.14, -1.99, -1.85, -1.71, -1.57, -1.43, -1.3, -1.17, -1.04, -0.91, -0.78, -0.66, -0.54, -0.44, 0.32, 0.43, 0.55, 0.67, 0.79, 0.91, 1.03, 1.16, 1.3, 1.45, 1.61, 1.78, 1.96, 2.16, 2.38],
  [0.44, -2.76, -2.56, -2.39, -2.23, -2.08, -1.93, -1.79, -1.65, -1.51, -1.38, -1.25, -1.12, -0.99, -0.86, -0.74, -0.62, -0.5, 0.33, 0.44, 0.56, 0.68, 0.8, 0.92, 1.05, 1.19, 1.34, 1.5, 1.67, 1.85, 2.05, 2.26],
  [0.46, -2.7, -2.5, -2.32, -2.16, -2.0, -1.85, -1.71, -1.57, -1.43, -1.3, -1.17, -1.04, -0.91, -0.78, -0.66, -0.54, 0.35, 0.46, 0.58, 0.7, 0.82, 0.95, 1.09, 1.24, 1.4, 1.57, 1.75, 1.95, 2.16],
  [0.48, -2.62, -2.4, -2.2, -2.02, -1.85, -1.69, -1.54, -1.39, -1.25, -1.11, -0.97, -0.84, -0.71, -0.6, 0.37, 0.49, 0.62, 0.75, 0.88, 1.02, 1.17, 1.33, 1.5, 1.68, 1.88, 2.1],
  [0.5, -2.5, -2.25, -2.04, -1.85, -1.67, -1.5, -1.34, -1.18, -1.03, -0.88, -0.74, -0.62, 0.4, 0.53, 0.67, 0.81, 0.96, 1.12, 1.29, 1.47, 1.66, 1.87, 2.1],
  [0.52, -2.4, -2.1, -1.86, -1.64, -1.44, -1.25, -1.07, -0.9, -0.74, 0.45, 0.6, 0.76, 0.93, 1.11, 1.3, 1.5, 1.72, 1.96],
  [0.54, -2.28, -1.95, -1.66, -1.4, -1.16, -0.94, -0.78, 0.5, 0.68, 0.87, 1.07, 1.28, 1.5, 1.75],
  [0.56, -2.1, -1.75, -1.45, -1.18, -0.95, 0.56, 0.78, 1.0, 1.24, 1.5, 1.8],
  [0.58, -2.5, -1.9, -1.5, -1.1, 0.65, 0.92, 1.2, 1.5],
  [0.6, -2.2, -1.6, -1.25, 0.75, 1.1, 1.45, 1.9],
  [0.635, -4.11, -3.56, -2.63, -2.25, -1.72, -1.39, 2.57, 3.05, 3.48, 4.64],
  [0.647, -5.4, -5.28],
  [0.664, -4.54, -4.11, -3.59, -3.3, -2.92, -2.63, -2.54, -2.42, -2.3, -2.15, -2.06, -1.92, -1.77, -1.58, -1.44, -1.3, -1.2,
    0.9, 1.14, 1.28, 1.48, 1.67, 1.84, 2.0, 2.14, 2.28, 2.43, 2.57, 2.71, 2.9, 3.09, 3.33, 3.57, 4.34, 4.67, 4.77],
  [0.761, -2.42, -2.06, -1.466, 0.948, 1.74, 2.43, 2.83],
  [0.983, -3.28, -2.49, -1.46, 0.757, 1.836, 2.733],
];

// the packed core of the cloud, between the rows above
const notSigCoreB: number[][] = [
  [0.09, -1.58, -1.43, -1.29, -1.16, -1.03, -0.9, -0.78, -0.66, -0.54, -0.42, -0.31, -0.2, -0.11, 0.1, 0.21, 0.33, 0.45, 0.57, 0.69, 0.81, 0.93, 1.05, 1.18, 1.32, 1.46],
  [0.11, -1.92, -1.76, -1.61, -1.47, -1.33, -1.2, -1.07, -0.94, -0.82, -0.7, -0.58, -0.46, -0.35, -0.24, -0.14, 0.12, 0.23, 0.35, 0.47, 0.59, 0.71, 0.83, 0.95, 1.07, 1.2, 1.34, 1.49, 1.64, 1.78],
  [0.13, -2.28, -2.11, -1.95, -1.8, -1.65, -1.51, -1.37, -1.24, -1.11, -0.98, -0.86, -0.74, -0.62, -0.5, -0.39, -0.28, -0.18, 0.13, 0.24, 0.36, 0.48, 0.6, 0.72, 0.84, 0.96, 1.08, 1.2, 1.33, 1.47, 1.62, 1.78, 1.95, 2.1],
  [0.15, -2.58, -2.4, -2.23, -2.07, -1.91, -1.76, -1.62, -1.48, -1.34, -1.21, -1.08, -0.95, -0.82, -0.69, -0.57, -0.45, -0.33, -0.22, 0.14, 0.26, 0.38, 0.5, 0.62, 0.74, 0.86, 0.98, 1.1, 1.22, 1.35, 1.49, 1.64, 1.8, 1.97, 2.14, 2.3],
  [0.17, -2.77, -2.58, -2.41, -2.25, -2.09, -1.94, -1.8, -1.66, -1.52, -1.38, -1.24, -1.1, -0.97, -0.84, -0.71, -0.59, -0.47, -0.35, -0.24, 0.16, 0.28, 0.4, 0.52, 0.64, 0.76, 0.88, 1.0, 1.12, 1.25, 1.38, 1.52, 1.67, 1.83, 2.0, 2.17, 2.35],
  [0.19, -2.8, -2.62, -2.45, -2.29, -2.13, -1.98, -1.84, -1.7, -1.56, -1.42, -1.29, -1.16, -1.03, -0.9, -0.77, -0.65, -0.53, -0.41, -0.3, -0.21, 0.18, 0.3, 0.42, 0.54, 0.66, 0.78, 0.9, 1.02, 1.14, 1.27, 1.4, 1.54, 1.69, 1.85, 2.02, 2.2, 2.38],
  [0.21, -2.86, -2.66, -2.48, -2.32, -2.16, -2.01, -1.87, -1.73, -1.59, -1.45, -1.31, -1.18, -1.05, -0.92, -0.79, -0.67, -0.55, -0.44, -0.33, -0.24, 0.19, 0.31, 0.43, 0.55, 0.67, 0.79, 0.91, 1.03, 1.16, 1.29, 1.43, 1.57, 1.72, 1.88, 2.05, 2.23, 2.42],
  [0.23, -2.88, -2.68, -2.5, -2.34, -2.18, -2.03, -1.88, -1.74, -1.6, -1.46, -1.32, -1.19, -1.06, -0.93, -0.8, -0.68, -0.56, -0.45, -0.35, -0.27, 0.21, 0.33, 0.45, 0.57, 0.69, 0.81, 0.93, 1.05, 1.18, 1.31, 1.45, 1.6, 1.76, 1.92, 2.1, 2.3, 2.5],
  [0.25, -2.9, -2.7, -2.52, -2.35, -2.19, -2.04, -1.89, -1.75, -1.61, -1.47, -1.33, -1.2, -1.07, -0.94, -0.81, -0.69, -0.57, -0.46, -0.36, -0.29, 0.22, 0.34, 0.46, 0.58, 0.7, 0.82, 0.94, 1.07, 1.2, 1.33, 1.47, 1.62, 1.77, 1.93, 2.11, 2.3, 2.5],
  [0.27, -2.92, -2.72, -2.54, -2.37, -2.21, -2.06, -1.91, -1.77, -1.63, -1.49, -1.35, -1.22, -1.09, -0.96, -0.83, -0.7, -0.58, -0.47, -0.37, -0.3, 0.24, 0.36, 0.48, 0.6, 0.72, 0.84, 0.96, 1.08, 1.21, 1.35, 1.49, 1.64, 1.8, 1.96, 2.13, 2.32, 2.52],
  [0.29, -2.9, -2.71, -2.53, -2.36, -2.2, -2.05, -1.9, -1.76, -1.62, -1.48, -1.35, -1.22, -1.09, -0.96, -0.83, -0.71, -0.59, -0.48, -0.38, -0.31, 0.25, 0.37, 0.49, 0.61, 0.73, 0.85, 0.97, 1.09, 1.22, 1.36, 1.5, 1.65, 1.81, 1.98, 2.15, 2.34, 2.54],
  [0.31, -2.92, -2.72, -2.54, -2.37, -2.21, -2.06, -1.91, -1.77, -1.63, -1.49, -1.36, -1.23, -1.1, -0.97, -0.84, -0.72, -0.6, -0.49, -0.39, -0.33, 0.26, 0.38, 0.5, 0.62, 0.74, 0.86, 0.98, 1.1, 1.23, 1.37, 1.52, 1.67, 1.83, 2.0, 2.18, 2.37, 2.56],
  [0.33, -2.9, -2.7, -2.52, -2.36, -2.2, -2.05, -1.91, -1.77, -1.63, -1.49, -1.36, -1.23, -1.1, -0.97, -0.84, -0.72, -0.6, -0.49, -0.39, 0.27, 0.39, 0.51, 0.63, 0.75, 0.87, 0.99, 1.11, 1.24, 1.38, 1.53, 1.69, 1.86, 2.04, 2.23, 2.44, 2.6],
  [0.35, -2.88, -2.68, -2.5, -2.34, -2.19, -2.04, -1.9, -1.76, -1.62, -1.48, -1.35, -1.22, -1.09, -0.96, -0.83, -0.71, -0.59, -0.48, -0.4, 0.29, 0.41, 0.53, 0.65, 0.77, 0.89, 1.01, 1.13, 1.26, 1.4, 1.55, 1.71, 1.88, 2.06, 2.26, 2.46],
  [0.37, -2.86, -2.66, -2.49, -2.33, -2.18, -2.03, -1.89, -1.75, -1.61, -1.47, -1.34, -1.21, -1.08, -0.95, -0.82, -0.7, -0.58, -0.47, -0.41, 0.3, 0.42, 0.54, 0.66, 0.78, 0.9, 1.02, 1.14, 1.27, 1.41, 1.56, 1.72, 1.9, 2.08, 2.28, 2.5],
  [0.39, -2.84, -2.64, -2.47, -2.31, -2.16, -2.01, -1.87, -1.73, -1.59, -1.45, -1.32, -1.19, -1.06, -0.93, -0.8, -0.68, -0.56, -0.46, 0.31, 0.43, 0.55, 0.67, 0.79, 0.91, 1.03, 1.16, 1.3, 1.45, 1.61, 1.78, 1.96, 2.15, 2.36],
  [0.41, -2.82, -2.62, -2.45, -2.29, -2.14, -1.99, -1.85, -1.71, -1.57, -1.43, -1.3, -1.17, -1.04, -0.91, -0.78, -0.66, -0.55, -0.46, 0.33, 0.45, 0.57, 0.69, 0.81, 0.93, 1.05, 1.18, 1.32, 1.47, 1.63, 1.8, 1.98, 2.18, 2.4],
  [0.43, -2.8, -2.6, -2.43, -2.27, -2.12, -1.97, -1.83, -1.69, -1.55, -1.42, -1.29, -1.16, -1.03, -0.9, -0.77, -0.65, -0.54, -0.47, 0.34, 0.46, 0.58, 0.7, 0.82, 0.94, 1.07, 1.21, 1.36, 1.52, 1.69, 1.87, 2.06, 2.28],
  [0.45, -2.72, -2.52, -2.35, -2.19, -2.04, -1.89, -1.75, -1.61, -1.47, -1.34, -1.21, -1.08, -0.95, -0.82, -0.7, -0.58, -0.51, 0.36, 0.48, 0.6, 0.72, 0.84, 0.97, 1.11, 1.26, 1.42, 1.59, 1.77, 1.96, 2.16],
  [0.47, -2.66, -2.45, -2.26, -2.09, -1.93, -1.78, -1.63, -1.48, -1.34, -1.2, -1.06, -0.93, -0.8, -0.68, -0.57, 0.38, 0.5, 0.63, 0.76, 0.9, 1.05, 1.2, 1.36, 1.53, 1.71, 1.9, 2.1],
  [0.49, -2.55, -2.32, -2.12, -1.94, -1.77, -1.61, -1.46, -1.31, -1.16, -1.01, -0.87, -0.74, -0.63, 0.4, 0.52, 0.66, 0.8, 0.95, 1.1, 1.26, 1.43, 1.61, 1.8, 2.0],
  [0.51, -2.45, -2.18, -1.96, -1.75, -1.56, -1.38, -1.2, -1.03, -0.87, -0.72, 0.43, 0.57, 0.72, 0.88, 1.05, 1.23, 1.42, 1.62, 1.84, 2.05],
];

// the most crowded genes inside each wing
const notSigDenseB: number[][] = [
  [0.105, -1.52, -1.4, -1.28, -1.16, -1.04, -0.92, -0.8, -0.68, -0.56, -0.44, -0.33, -0.22, -0.14, 0.14, 0.26, 0.38, 0.5, 0.62, 0.74, 0.86, 0.98, 1.1, 1.22, 1.36],
  [0.125, -1.86, -1.74, -1.62, -1.5, -1.38, -1.26, -1.14, -1.02, -0.9, -0.78, -0.66, -0.54, -0.42, -0.31, -0.21, 0.16, 0.28, 0.4, 0.52, 0.64, 0.76, 0.88, 1.0, 1.12, 1.24, 1.36, 1.5, 1.64],
  [0.145, -2.16, -2.04, -1.92, -1.8, -1.68, -1.56, -1.44, -1.32, -1.2, -1.08, -0.96, -0.84, -0.72, -0.6, -0.48, -0.37, -0.26, -0.19, 0.17, 0.29, 0.41, 0.53, 0.65, 0.77, 0.89, 1.01, 1.13, 1.25, 1.38, 1.52, 1.67, 1.82],
  [0.165, -2.4, -2.28, -2.16, -2.04, -1.92, -1.8, -1.68, -1.56, -1.44, -1.32, -1.2, -1.08, -0.96, -0.84, -0.72, -0.6, -0.48, -0.36, -0.26, 0.19, 0.31, 0.43, 0.55, 0.67, 0.79, 0.91, 1.03, 1.15, 1.27, 1.4, 1.54, 1.69, 1.85, 2.0],
  [0.185, -2.52, -2.4, -2.28, -2.16, -2.04, -1.92, -1.8, -1.68, -1.56, -1.44, -1.32, -1.2, -1.08, -0.96, -0.84, -0.72, -0.6, -0.48, -0.37, -0.28, 0.2, 0.32, 0.44, 0.56, 0.68, 0.8, 0.92, 1.04, 1.16, 1.28, 1.41, 1.55, 1.7, 1.86, 2.02, 2.16],
  [0.205, -2.55, -2.43, -2.31, -2.19, -2.07, -1.95, -1.83, -1.71, -1.59, -1.47, -1.35, -1.23, -1.11, -0.99, -0.87, -0.75, -0.63, -0.51, -0.4, -0.3, 0.21, 0.33, 0.45, 0.57, 0.69, 0.81, 0.93, 1.05, 1.17, 1.29, 1.42, 1.56, 1.71, 1.87, 2.03, 2.18],
  [0.225, -2.58, -2.46, -2.34, -2.22, -2.1, -1.98, -1.86, -1.74, -1.62, -1.5, -1.38, -1.26, -1.14, -1.02, -0.9, -0.78, -0.66, -0.54, -0.42, -0.32, 0.22, 0.34, 0.46, 0.58, 0.7, 0.82, 0.94, 1.06, 1.18, 1.3, 1.43, 1.57, 1.72, 1.88, 2.04, 2.2],
  [0.245, -2.6, -2.48, -2.36, -2.24, -2.12, -2.0, -1.88, -1.76, -1.64, -1.52, -1.4, -1.28, -1.16, -1.04, -0.92, -0.8, -0.68, -0.56, -0.44, -0.34, 0.24, 0.36, 0.48, 0.6, 0.72, 0.84, 0.96, 1.08, 1.2, 1.32, 1.45, 1.59, 1.74, 1.9, 2.06, 2.22],
  [0.265, -2.62, -2.5, -2.38, -2.26, -2.14, -2.02, -1.9, -1.78, -1.66, -1.54, -1.42, -1.3, -1.18, -1.06, -0.94, -0.82, -0.7, -0.58, -0.46, -0.36, 0.25, 0.37, 0.49, 0.61, 0.73, 0.85, 0.97, 1.09, 1.21, 1.33, 1.46, 1.6, 1.75, 1.91, 2.07, 2.24],
  [0.285, -2.62, -2.5, -2.38, -2.26, -2.14, -2.02, -1.9, -1.78, -1.66, -1.54, -1.42, -1.3, -1.18, -1.06, -0.94, -0.82, -0.7, -0.58, -0.47, -0.38, 0.27, 0.39, 0.51, 0.63, 0.75, 0.87, 0.99, 1.11, 1.23, 1.35, 1.48, 1.62, 1.77, 1.93, 2.09, 2.26],
  [0.305, -2.62, -2.5, -2.38, -2.26, -2.14, -2.02, -1.9, -1.78, -1.66, -1.54, -1.42, -1.3, -1.18, -1.06, -0.94, -0.82, -0.7, -0.58, -0.48, -0.4, 0.28, 0.4, 0.52, 0.64, 0.76, 0.88, 1.0, 1.12, 1.24, 1.36, 1.49, 1.63, 1.78, 1.94, 2.1, 2.27],
  [0.325, -2.6, -2.48, -2.36, -2.24, -2.12, -2.0, -1.88, -1.76, -1.64, -1.52, -1.4, -1.28, -1.16, -1.04, -0.92, -0.8, -0.68, -0.56, -0.46, -0.4, 0.3, 0.42, 0.54, 0.66, 0.78, 0.9, 1.02, 1.14, 1.26, 1.38, 1.51, 1.65, 1.8, 1.96, 2.12, 2.28],
  [0.345, -2.58, -2.46, -2.34, -2.22, -2.1, -1.98, -1.86, -1.74, -1.62, -1.5, -1.38, -1.26, -1.14, -1.02, -0.9, -0.78, -0.66, -0.55, -0.46, 0.31, 0.43, 0.55, 0.67, 0.79, 0.91, 1.03, 1.15, 1.27, 1.4, 1.54, 1.69, 1.85, 2.01, 2.18],
  [0.365, -2.56, -2.44, -2.32, -2.2, -2.08, -1.96, -1.84, -1.72, -1.6, -1.48, -1.36, -1.24, -1.12, -1.0, -0.88, -0.76, -0.64, -0.53, -0.46, 0.33, 0.45, 0.57, 0.69, 0.81, 0.93, 1.05, 1.17, 1.29, 1.42, 1.56, 1.71, 1.87, 2.03, 2.2],
  [0.385, -2.52, -2.4, -2.28, -2.16, -2.04, -1.92, -1.8, -1.68, -1.56, -1.44, -1.32, -1.2, -1.08, -0.96, -0.84, -0.72, -0.61, -0.51, 0.35, 0.47, 0.59, 0.71, 0.83, 0.95, 1.07, 1.19, 1.31, 1.44, 1.58, 1.73, 1.89, 2.05, 2.2],
  [0.405, -2.48, -2.36, -2.24, -2.12, -2.0, -1.88, -1.76, -1.64, -1.52, -1.4, -1.28, -1.16, -1.04, -0.92, -0.8, -0.69, -0.58, -0.5, 0.36, 0.48, 0.6, 0.72, 0.84, 0.96, 1.08, 1.2, 1.33, 1.47, 1.62, 1.78, 1.95, 2.12],
  [0.425, -2.44, -2.32, -2.2, -2.08, -1.96, -1.84, -1.72, -1.6, -1.48, -1.36, -1.24, -1.12, -1.0, -0.88, -0.76, -0.65, -0.55, 0.38, 0.5, 0.62, 0.74, 0.86, 0.98, 1.1, 1.23, 1.37, 1.52, 1.68, 1.85, 2.02],
  [0.445, -2.38, -2.26, -2.14, -2.02, -1.9, -1.78, -1.66, -1.54, -1.42, -1.3, -1.18, -1.06, -0.94, -0.82, -0.71, -0.6, 0.4, 0.52, 0.64, 0.76, 0.88, 1.0, 1.13, 1.27, 1.42, 1.58, 1.75, 1.92],
  [0.465, -2.3, -2.18, -2.06, -1.94, -1.82, -1.7, -1.58, -1.46, -1.34, -1.22, -1.1, -0.98, -0.86, -0.75, -0.64, 0.42, 0.54, 0.66, 0.78, 0.9, 1.03, 1.17, 1.32, 1.48, 1.65, 1.82],
  [0.485, -2.2, -2.06, -1.93, -1.8, -1.67, -1.54, -1.41, -1.28, -1.15, -1.02, -0.9, -0.78, -0.67, 0.44, 0.57, 0.7, 0.84, 0.99, 1.15, 1.32, 1.5, 1.7],
];

const notSigScatterB: number[][] = [
  [2.84, 1.173], [4.19, 1.173], [2.0, 0.913], [-3.35, 0.913], [4.83, 0.865], [-5.52, 0.759], [-3.11, 0.729],
  [-2.5, 0.71], [-1.9, 0.705], [-2.2, 0.72], [1.6, 0.71], [2.3, 0.705], [1.05, 0.72],
  [-4.39, 0.522], [-4.15, 0.54], [-3.92, 0.522], [-3.68, 0.51], [-3.3, 0.463], [-3.11, 0.463], [-4.27, 0.398],
  [-4.17, 0.316], [-3.92, 0.339], [-3.68, 0.316], [-3.44, 0.256], [-3.11, 0.262], [-3.3, 0.392], [-3.11, 0.369],
  [-3.2, 0.322], [-3.06, 0.416], [-3.49, 0.463], [-3.11, 0.493], [-2.82, 0.032],
  [3.05, 0.203], [3.19, 0.262], [3.33, 0.339], [3.29, 0.392], [3.43, 0.404], [3.67, 0.381], [3.1, 0.351],
  [3.14, 0.416], [3.0, 0.487], [2.91, 0.463], [3.48, 0.463], [2.81, 0.31], [2.95, 0.25], [3.33, 0.54],
  [3.67, 0.54], [3.91, 0.57], [0.6, 0.532], [5.96, 0.493], [3.08, 0.038], [2.75, 0.52], [2.6, 0.56], [2.9, 0.58],
];

// ---------- helpers ----------
type Pt = { x: number; y: number };
type Label = { text: string; lx: number; ly: number; px: number; py: number; seg: boolean };

function rowsToPoints(rows: number[][]): Pt[] {
  const out: Pt[] = [];
  for (const r of rows) for (let i = 1; i < r.length; i++) out.push({ x: r[i], y: r[0] });
  return out;
}
const pairsToPoints = (pairs: number[][]): Pt[] => pairs.map(([x, y]) => ({ x, y }));
const fmtInt = (v: number) => (v < 0 ? '\u2212' + Math.abs(v) : String(v));
const fmtDec = (v: number) => v.toFixed(1);

type PanelSpec = {
  left: number;
  width: number;
  area: { left: number; right: number; top: number; bottom: number };
  xRange: [number, number];
  yRange: [number, number];
  xMajor: number[];
  xMinor: number[];
  yMajor: number[];
  yMinor: number[];
  grey: Pt[];
  red: Pt[];
  labels: Label[];
  letter: string;
  letterX: number;
  yTitleX: number;
  legend: boolean;
};

function crossAt(ctx: CanvasRenderingContext2D, x: number, y: number, r: number) {
  ctx.beginPath();
  ctx.moveTo(x - r, y); ctx.lineTo(x + r, y);
  ctx.moveTo(x, y - r); ctx.lineTo(x, y + r);
  ctx.stroke();
}
function starAt(ctx: CanvasRenderingContext2D, x: number, y: number, r: number) {
  crossAt(ctx, x, y, r);
  const d = r * Math.SQRT1_2;
  ctx.beginPath();
  ctx.moveTo(x - d, y - d); ctx.lineTo(x + d, y + d);
  ctx.moveTo(x - d, y + d); ctx.lineTo(x + d, y - d);
  ctx.stroke();
}

function decorPlugin(spec: PanelSpec) {
  return {
    id: 'volcanoDecor',
    afterDatasetsDraw(chart: any) {
      const ctx: CanvasRenderingContext2D = chart.ctx;
      const a = chart.chartArea;
      const xs = chart.scales.x;
      const ys = chart.scales.y;
      ctx.save();

      // p = 0.05 threshold
      const yT = ys.getPixelForValue(-Math.log10(pCutoff));
      ctx.strokeStyle = '#ABABAB';
      ctx.lineWidth = 1.2;
      ctx.setLineDash([9, 6]);
      ctx.beginPath();
      ctx.moveTo(a.left, yT);
      ctx.lineTo(a.right, yT);
      ctx.stroke();
      ctx.setLineDash([]);

      // gene labels with leader segments
      ctx.font = `18.3px ${SANS}`;
      ctx.strokeStyle = '#000000';
      ctx.lineWidth = 1.1;
      for (const l of spec.labels) {
        if (!l.seg) continue;
        const X = xs.getPixelForValue(l.lx);
        const Y = ys.getPixelForValue(l.ly);
        const PX = xs.getPixelForValue(l.px);
        const PY = ys.getPixelForValue(l.py);
        const hw = ctx.measureText(l.text).width / 2 + 3;
        const hh = 10.5;
        let ex: number, ey: number;
        if (PX < X - hw) { ex = X - hw; ey = Y; }
        else if (PX > X + hw) { ex = X + hw; ey = Y; }
        else { ex = X; ey = PY < Y ? Y - hh : Y + hh; }
        ctx.beginPath();
        ctx.moveTo(PX, PY);
        ctx.lineTo(ex, ey);
        ctx.stroke();
      }
      ctx.fillStyle = '#000000';
      ctx.textAlign = 'center';
      ctx.textBaseline = 'middle';
      for (const l of spec.labels) {
        ctx.fillText(l.text, xs.getPixelForValue(l.lx), ys.getPixelForValue(l.ly));
      }

      // panel border
      ctx.strokeStyle = '#333333';
      ctx.lineWidth = 1.1;
      ctx.strokeRect(a.left, a.top, a.right - a.left, a.bottom - a.top);

      // panel tag
      ctx.font = `30px ${SERIF}`;
      ctx.textAlign = 'left';
      ctx.textBaseline = 'alphabetic';
      ctx.fillText(spec.letter, spec.letterX - spec.left, 43.3);

      // axis titles
      ctx.font = `18.3px ${SANS}`;
      ctx.textAlign = 'center';
      ctx.fillText('Effect size', (a.left + a.right) / 2, 705);
      ctx.save();
      ctx.translate(spec.yTitleX - spec.left, (a.top + a.bottom) / 2);
      ctx.rotate(-Math.PI / 2);
      ctx.fillText('\u2212log10(p.value)', 0, 0);
      ctx.restore();

      if (spec.legend) {
        const kx = 1555.5 - spec.left;
        ctx.lineWidth = 1;
        ctx.strokeStyle = GREY;
        crossAt(ctx, kx, 333.3, 5.3);
        ctx.strokeStyle = RED;
        starAt(ctx, kx, 361.7, 5);
        ctx.fillStyle = '#000000';
        ctx.font = `14.7px ${SANS}`;
        ctx.textAlign = 'left';
        ctx.textBaseline = 'middle';
        ctx.fillText('Not Sig', 1579.3 - spec.left, 333.3);
        ctx.fillText('p.value (BH) < 0.05', 1579.3 - spec.left, 361.7);
      }
      ctx.restore();
    },
  };
}

function VolcanoPanel({ spec }: { spec: PanelSpec }) {
  const ref = useRef<HTMLCanvasElement | null>(null);
  useEffect(() => {
    if (!ref.current) return;
    const H = 711;
    const { area } = spec;
    const xTicks = [...spec.xMajor, ...spec.xMinor].sort((p, q) => p - q);
    const yTicks = [...spec.yMajor, ...spec.yMinor].sort((p, q) => p - q);
    const isMajorX = (v: number) => spec.xMajor.includes(v);
    const isMajorY = (v: number) => spec.yMajor.includes(v);
    const tickFont = { family: SANS, size: 14.6 };

    const chart = new Chart(ref.current, {
      type: 'scatter',
      data: {
        datasets: [
          {
            label: 'p.value (BH) < 0.05',
            data: spec.red,
            pointStyle: 'star',
            radius: 5,
            borderColor: RED,
            backgroundColor: 'rgba(0,0,0,0)',
            borderWidth: 1,
            order: 0,
          },
          {
            label: 'Not Sig',
            data: spec.grey,
            pointStyle: 'cross',
            radius: 5.3,
            borderColor: GREY,
            backgroundColor: 'rgba(0,0,0,0)',
            borderWidth: 1.1,
            order: 1,
          },
        ],
      },
      options: {
        animation: false,
        responsive: false,
        devicePixelRatio: 1,
        events: [],
        layout: {
          padding: { left: 0, top: area.top, right: spec.width - (area.right - spec.left), bottom: 0 },
        },
        plugins: { legend: { display: false }, tooltip: { enabled: false } },
        scales: {
          x: {
            type: 'linear',
            min: spec.xRange[0],
            max: spec.xRange[1],
            afterBuildTicks: (s: any) => { s.ticks = xTicks.map((v) => ({ value: v })); },
            afterFit: (s: any) => { s.height = H - area.bottom; s.paddingLeft = 0; s.paddingRight = 0; },
            ticks: {
              autoSkip: false,
              maxRotation: 0,
              padding: 3,
              font: tickFont,
              color: '#4D4D4D',
              callback: (v: any) => (isMajorX(Number(v)) ? fmtInt(Number(v)) : ''),
            },
            grid: {
              color: '#EBEBEB',
              lineWidth: (c: any) => (isMajorX(c.tick.value) ? 1.4 : 0.7),
              drawTicks: true,
              tickLength: 5,
              tickWidth: 1,
              tickColor: (c: any) => (isMajorX(c.tick.value) ? '#333333' : 'rgba(0,0,0,0)'),
            },
            border: { display: false },
          },
          y: {
            type: 'linear',
            min: spec.yRange[0],
            max: spec.yRange[1],
            afterBuildTicks: (s: any) => { s.ticks = yTicks.map((v) => ({ value: v })); },
            afterFit: (s: any) => { s.width = area.left - spec.left; s.paddingTop = 0; s.paddingBottom = 0; },
            ticks: {
              autoSkip: false,
              padding: 4,
              font: tickFont,
              color: '#4D4D4D',
              callback: (v: any) => (isMajorY(Number(v)) ? fmtDec(Number(v)) : ''),
            },
            grid: {
              color: '#EBEBEB',
              lineWidth: (c: any) => (isMajorY(c.tick.value) ? 1.4 : 0.7),
              drawTicks: true,
              tickLength: 5,
              tickWidth: 1,
              tickColor: (c: any) => (isMajorY(c.tick.value) ? '#333333' : 'rgba(0,0,0,0)'),
            },
            border: { display: false },
          },
        },
      },
      plugins: [decorPlugin(spec)],
    } as any);
    return () => chart.destroy();
  }, [spec]);

  return (
    <canvas
      ref={ref}
      width={spec.width}
      height={711}
      style={{ position: 'absolute', left: spec.left, top: 0, width: spec.width, height: 711 }}
    />
  );
}

function buildSpecs(): PanelSpec[] {
  const labelsA: Label[] = sigGenesA.map((g, i) => ({
    text: g, lx: labelXA[i], ly: labelYA[i], px: sigEffectA[i], py: sigLogPA[i], seg: leaderA.includes(g),
  }));
  const labelsB: Label[] = labelTextB.map((t, i) => {
    const k = leaderGenesB.indexOf(t);
    return {
      text: t, lx: labelXB[i], ly: labelYB[i],
      px: k >= 0 ? leaderEffectB[k] : 0, py: k >= 0 ? leaderLogPB[k] : 0, seg: k >= 0,
    };
  });
  const leaderPtsB: Pt[] = leaderEffectB.map((x, i) => ({ x, y: leaderLogPB[i] }));

  const a: PanelSpec = {
    left: 0,
    width: 770,
    area: { left: 62, right: 754.5, top: 5, bottom: 664.5 },
    xRange: [-6.501, 6.217],
    yRange: [-0.122, 2.6066],
    xMajor: xMajorA, xMinor: xMinorA, yMajor: yMajorA, yMinor: yMinorA,
    grey: [
      ...rowsToPoints(notSigRowsA), ...rowsToPoints(notSigCoreA), ...rowsToPoints(notSigDenseA),
      ...pairsToPoints(notSigScatterA),
    ],
    red: sigEffectA.map((x, i) => ({ x, y: sigLogPA[i] })),
    labels: labelsA,
    letter: 'a.',
    letterX: 79,
    yTitleX: 22.9,
    legend: false,
  };
  const b: PanelSpec = {
    left: 770,
    width: 947,
    area: { left: 823, right: 1513, top: 5, bottom: 663.5 },
    xRange: [-7.021, 6.549],
    yRange: [-0.1046, 2.2305],
    xMajor: xMajorB, xMinor: xMinorB, yMajor: yMajorB, yMinor: yMinorB,
    grey: [
      ...rowsToPoints(notSigRowsB), ...rowsToPoints(notSigCoreB), ...rowsToPoints(notSigDenseB),
      ...pairsToPoints(notSigScatterB), ...leaderPtsB,
    ],
    red: sigEffectB.map((x, i) => ({ x, y: sigLogPB[i] })),
    labels: labelsB,
    letter: 'b.',
    letterX: 846.4,
    yTitleX: 782.9,
    legend: true,
  };
  return [a, b];
}

const SPECS = buildSpecs();

export default function App() {
  return (
    <div style={{ position: 'absolute', left: 0, top: 0, width: 1717, height: 711, background: '#FFFFFF', overflow: 'hidden' }}>
      {SPECS.map((s) => (
        <VolcanoPanel key={s.letter} spec={s} />
      ))}
    </div>
  );
}
